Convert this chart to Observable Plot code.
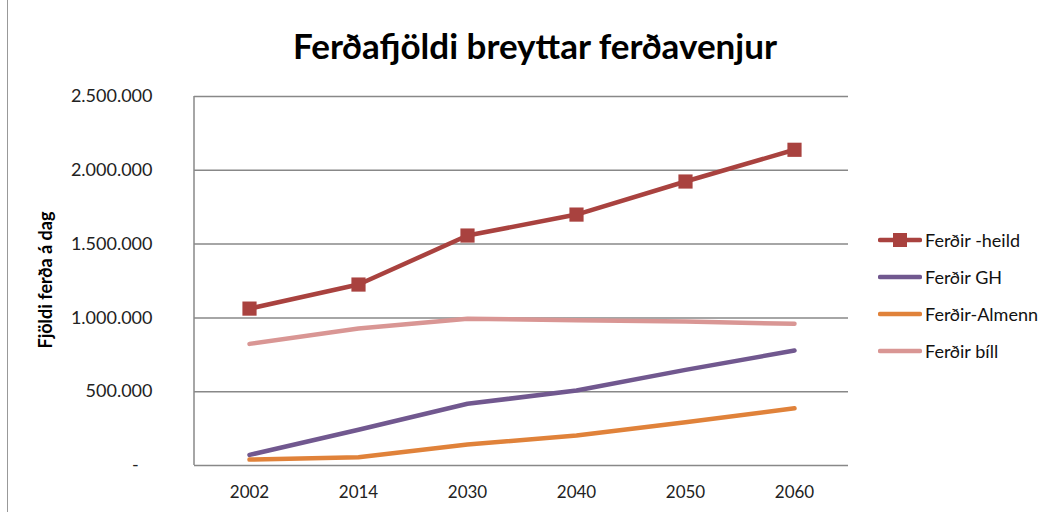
<!DOCTYPE html>
<html>
<head>
<meta charset="utf-8">
<script src="https://cdn.jsdelivr.net/npm/d3@7"></script>
<script src="https://cdn.jsdelivr.net/npm/@observablehq/plot@0.6"></script>
<style>
  body { margin: 0; background: #fff; font-family: Lato, "Noto Sans", sans-serif; }
  #wrap { position: relative; width: 1050px; height: 512px; overflow: hidden; }
  #title { position: absolute; left: 0; width: 1070px; top: 24px; text-align: center; font-size: 35px; font-weight: bold; color: #000; }
  #ylabel { position: absolute; left: 45px; top: 280px; transform: translate(-50%, -50%) rotate(-90deg); font-size: 18px; font-weight: bold; white-space: nowrap; }
  #legend { position: absolute; left: 878px; top: 221px; }
  .row { display: flex; align-items: center; height: 37px; font-size: 18px; color: #111; }
  .row svg { margin-right: 3px; }
  #border { position: absolute; left: 7px; top: 0; width: 1px; height: 512px; background: #999; }
</style>
</head>
<body>
<div id="wrap">
  <div id="border"></div>
  <div id="chart"></div>
  <div id="title">Ferðafjöldi breyttar ferðavenjur</div>
  <div id="ylabel">Fjöldi ferða á dag</div>
  <div id="legend"></div>
</div>
<script>
const years = ["2002", "2014", "2030", "2040", "2050", "2060"];
const heild  = [1063000, 1226000, 1558000, 1700000, 1924000, 2139000];
const gh     = [72000, 242000, 418000, 508000, 648000, 779000];
const almenn = [40000, 56000, 142000, 203000, 293000, 388000];
const bill   = [824000, 928000, 994000, 984000, 975000, 960000];
const seriesNames = ["Ferðir -heild", "Ferðir GH", "Ferðir-Almenn", "Ferðir bíll"];
const seriesColors = ["#A9423F", "#71588F", "#E0823A", "#D99694"];
const yTicks = [0, 500000, 1000000, 1500000, 2000000, 2500000];

const seriesValues = [heild, gh, almenn, bill];
const rows = [];
seriesNames.forEach((name, si) => {
  years.forEach((yr, i) => rows.push({series: name, year: yr, value: seriesValues[si][i]}));
});

const fmt = d => d === 0 ? "-\u00a0\u00a0\u00a0" : d3.format(",")(d).replace(/,/g, ".");

const leftAxisLine = (index, scales, values, dims) => {
  const ns = "http://www.w3.org/2000/svg";
  const l = document.createElementNS(ns, "line");
  l.setAttribute("x1", dims.marginLeft); l.setAttribute("x2", dims.marginLeft);
  l.setAttribute("y1", dims.marginTop); l.setAttribute("y2", dims.height - dims.marginBottom);
  l.setAttribute("stroke", "#888"); l.setAttribute("stroke-width", 1.5);
  return l;
};

const order = ["Ferðir bíll", "Ferðir GH", "Ferðir-Almenn", "Ferðir -heild"];
const plot = Plot.plot({
  width: 1050,
  height: 512,
  marginLeft: 194,
  marginRight: 202,
  marginTop: 96,
  marginBottom: 47,
  style: {fontFamily: "Lato, 'Noto Sans', sans-serif", fontSize: "17px", color: "#222", background: "transparent"},
  x: {type: "point", domain: years, padding: 0.5, label: null},
  y: {domain: [0, 2500000], label: null},
  color: {domain: seriesNames, range: seriesColors},
  marks: [
    Plot.gridY(yTicks, {stroke: "#888", strokeOpacity: 1, strokeWidth: 1.5}),
    leftAxisLine,
    Plot.axisY(yTicks, {tickSize: 0, tickPadding: 42, tickFormat: fmt, fontSize: 18, label: null}),
    Plot.axisX({tickSize: 0, tickPadding: 20, fontSize: 17, label: null}),
    ...order.map(name => Plot.line(rows.filter(r => r.series === name), {
      x: "year", y: "value", stroke: seriesColors[seriesNames.indexOf(name)], strokeWidth: 4.5, strokeLinejoin: "round", strokeLinecap: "round"
    })),
    Plot.dot(rows.filter(r => r.series === "Ferðir -heild"), {
      x: "year", y: "value", symbol: "square", r: 8, fill: seriesColors[0], stroke: "none"
    })
  ]
});
document.getElementById("chart").appendChild(plot);

const legend = document.getElementById("legend");
seriesNames.forEach((name, i) => {
  const row = document.createElement("div");
  row.className = "row";
  const marker = i === 0 ? `<rect x="15" y="2" width="14" height="14" fill="${seriesColors[i]}"/>` : "";
  row.innerHTML = `<svg width="44" height="18"><line x1="2" x2="42" y1="9" y2="9" stroke="${seriesColors[i]}" stroke-width="4.5" stroke-linecap="round"/>${marker}</svg><span>${name}</span>`;
  legend.appendChild(row);
});
</script>
</body>
</html>
